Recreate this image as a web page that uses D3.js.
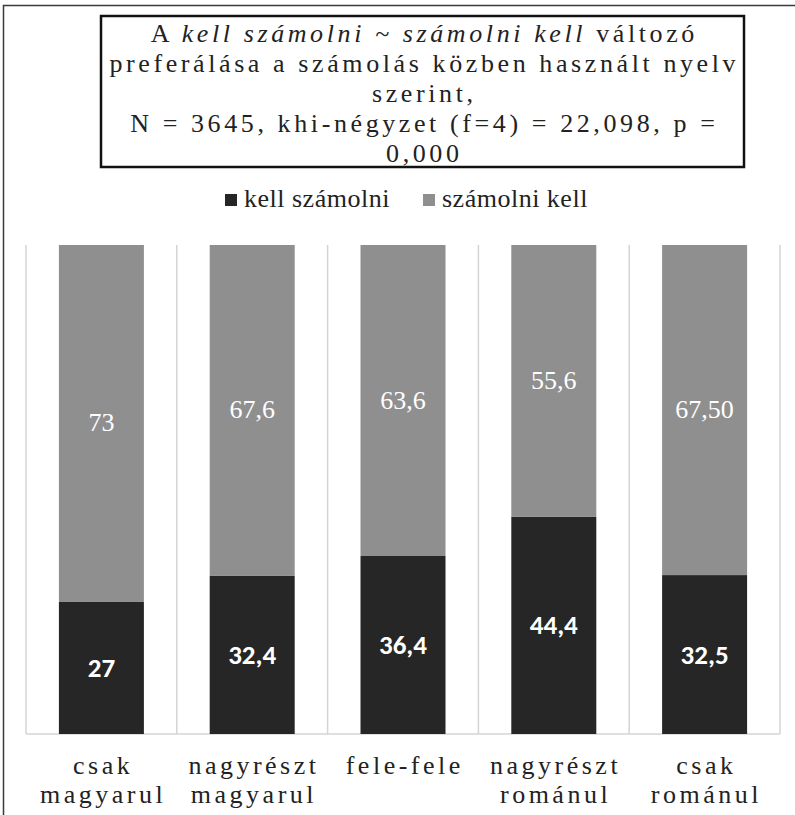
<!DOCTYPE html>
<html><head><meta charset="utf-8">
<script src="https://cdn.jsdelivr.net/npm/d3@7"></script>
<style>body{margin:0;background:#fff}svg{display:block}</style>
</head><body>
<script>
const categories = [["csak","magyarul"],["nagyrészt","magyarul"],["fele-fele"],["nagyrészt","románul"],["csak","románul"]];
const kellSzamolni = [27, 32.4, 36.4, 44.4, 32.5];
const szamolniKell = [73, 67.6, 63.6, 55.6, 67.5];
const kellLabels = ["27","32,4","36,4","44,4","32,5"];
const szamolniLabels = ["73","67,6","63,6","55,6","67,50"];
const seriesNames = ["kell számolni","számolni kell"];
const titleLines = ["preferálása a számolás közben használt nyelv","szerint,","N = 3645, khi-négyzet (f=4) = 22,098, p =","0,000"];

const fams=["Liberation Serif","Carlito"];
const W=795,H=815;
const svg=d3.select("body").append("svg").attr("width",W).attr("height",H);
function txt(sel,fi,size,ls){
  sel.style("font-family",`"${fams[fi]}", monospace`).attr("font-size",size);
  if(ls) sel.style("letter-spacing",ls+"px");
  return sel;
}

// outer frame
svg.append("path").attr("d",`M3.5,${H} V5.5 H${W}`).attr("fill","none").attr("stroke","#3a3a3a").attr("stroke-width",1.5);

// title box
svg.append("rect").attr("x",101).attr("y",16).attr("width",643).attr("height",151)
  .attr("fill","#fff").attr("stroke","#111").attr("stroke-width",2.5);
const tcx=422.5, tls=3.6;
const l1=txt(svg.append("text"),0,26,tls).attr("x",tcx+tls/2).attr("y",42).attr("text-anchor","middle").attr("fill","#222");
l1.append("tspan").text("A ");
l1.append("tspan").style("font-style","italic").text("kell számolni ~ számolni kell");
l1.append("tspan").text(" változó");
titleLines.forEach((t,i)=>txt(svg.append("text"),0,26,tls).attr("x",tcx+tls/2).attr("y",72+i*30)
  .attr("text-anchor","middle").attr("fill","#222").text(t));

// legend
const colors=["#262626","#8f8f8f"];
const legX=[225,423];
seriesNames.forEach((n,i)=>{
  svg.append("rect").attr("x",legX[i]).attr("y",194).attr("width",12).attr("height",12).attr("fill",colors[i]);
  txt(svg.append("text"),0,26,0.5).attr("x",legX[i]+19).attr("y",207).attr("fill","#222").text(n);
});

// plot
const x=d3.scaleBand().domain(d3.range(5)).range([26,780]).paddingInner(0).paddingOuter(0);
const y=d3.scaleLinear().domain([0,100]).range([734,245]);
const barW=85;
const g=svg.append("g");
const xs=d3.range(6).map(i=> i<5? x(i): x(4)+x.bandwidth());
g.selectAll("line.grid").data(xs).enter().append("line").attr("class","grid")
  .attr("x1",d=>d).attr("x2",d=>d).attr("y1",y(100)).attr("y2",y(0))
  .attr("stroke","#d4d4d4").attr("stroke-width",1.5);
g.append("line").attr("x1",26).attr("x2",780).attr("y1",y(0)).attr("y2",y(0)).attr("stroke","#d4d4d4").attr("stroke-width",1.5);

const cx=i=>x(i)+x.bandwidth()/2;
g.selectAll("rect.k").data(kellSzamolni).enter().append("rect")
  .attr("x",(d,i)=>cx(i)-barW/2).attr("width",barW).attr("y",d=>y(d)).attr("height",d=>y(0)-y(d)).attr("fill",colors[0]);
g.selectAll("rect.s").data(szamolniKell).enter().append("rect")
  .attr("x",(d,i)=>cx(i)-barW/2).attr("width",barW).attr("y",(d,i)=>y(kellSzamolni[i]+d)).attr("height",(d,i)=>y(kellSzamolni[i])-y(kellSzamolni[i]+d)).attr("fill",colors[1]);

kellSzamolni.forEach((d,i)=>{
  txt(g.append("text"),1,27,0).style("font-weight","bold")
    .attr("x",cx(i)).attr("y",(y(0)+y(d))/2+9).attr("text-anchor","middle").attr("fill","#fff").text(kellLabels[i]);
});
szamolniKell.forEach((d,i)=>{
  txt(g.append("text"),0,26,0)
    .attr("x",cx(i)).attr("y",(y(kellSzamolni[i])+y(kellSzamolni[i]+d))/2+8).attr("text-anchor","middle").attr("fill","#fff").text(szamolniLabels[i]);
});

const cls=3.5;
categories.forEach((c,i)=>{
  c.forEach((t,j)=>txt(svg.append("text"),0,26,cls).attr("x",cx(i)+cls/2).attr("y",774+j*29)
    .attr("text-anchor","middle").attr("fill","#222").text(t));
});
</script>
</body></html>
